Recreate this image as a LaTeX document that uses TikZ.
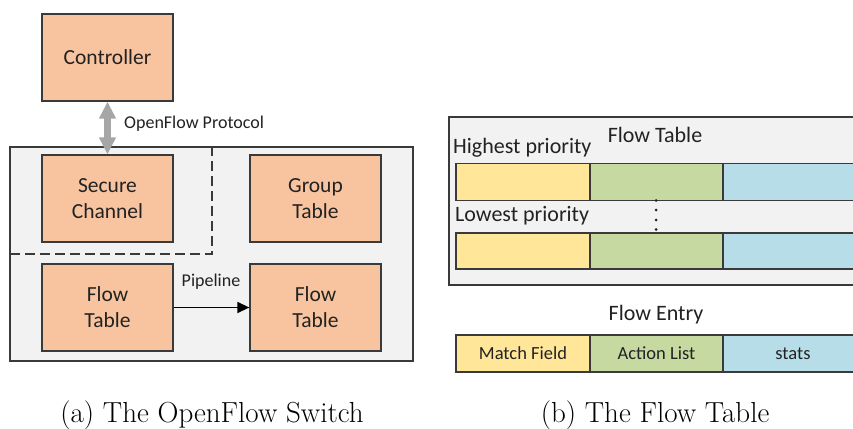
\documentclass[tikz,border=0pt]{standalone}
\usepackage{fontspec}
\setmainfont{Latin Modern Roman}
\newfontfamily\diafont{Carlito}
\usetikzlibrary{arrows.meta,calc}
\definecolor{boxorange}{HTML}{F8C4A0}
\definecolor{panelgray}{HTML}{F2F2F2}
\definecolor{cellyellow}{HTML}{FFE699}
\definecolor{cellgreen}{HTML}{C5D9A1}
\definecolor{cellblue}{HTML}{B7DEE8}
\definecolor{edgegray}{HTML}{3A3A3A}
\definecolor{txt}{HTML}{222222}
\definecolor{arrowgray}{HTML}{A6A6A6}
\tikzset{
  unitbox/.style={draw=edgegray, line width=1.3pt, fill=boxorange,
    minimum width=131pt, minimum height=87pt, inner sep=0pt,
    align=center, text=txt, font=\diafont\fontsize{21.5}{26}\selectfont},
  panel/.style={draw=edgegray, line width=1.3pt, fill=panelgray},
  cell/.style={draw=edgegray, line width=1.3pt, minimum height=37pt,
    inner sep=0pt, text=txt, font=\diafont\fontsize{18.5}{22}\selectfont},
  lbl/.style={text=txt, inner sep=0pt, font=\diafont\fontsize{22}{26}\selectfont},
  smalllbl/.style={text=txt, inner sep=0pt, font=\diafont\fontsize{18}{22}\selectfont},
  caption/.style={inner sep=0pt, font=\fontsize{29}{34}\selectfont}
}
\begin{document}
\begin{tikzpicture}[x=1pt,y=-1pt]
\useasboundingbox (0,0) rectangle (853,428);
\fill[white] (0,0) rectangle (853,428);

% ---- (a) switch ----
\draw[panel] (10,147) rectangle (413,361);
\draw[edgegray, line width=1.3pt, dash pattern=on 10pt off 5pt] (10,254) -- (212,254) -- (212,147);

\node[unitbox] (ctrl) at (107.5,57.5) {Controller};
\node[unitbox] (sec) at (107.5,198.5) {Secure\\Channel};
\node[unitbox] (grp) at (315.5,198.5) {Group\\Table};
\node[unitbox] (ft1) at (107.5,307.5) {Flow\\Table};
\node[unitbox] (ft2) at (315.5,307.5) {Flow\\Table};

\draw[arrowgray, line width=6.5pt,
  {Triangle[length=17pt,width=16pt]}-{Triangle[length=17pt,width=16pt]}]
  (ctrl.south) -- (sec.north);
\node[smalllbl, anchor=west] (proto) at (124,124) {OpenFlow Protocol};

\draw[black, line width=1.4pt, -{Triangle[length=12pt,width=11pt]}] (ft1.east) -- (ft2.west);
\node[smalllbl] (pipe) at (211,282) {Pipeline};

% ---- (b) flow table ----
\draw[panel] (449,117) rectangle (870,285);
\node[lbl] (fttitle) at (655,135) {Flow Table};
\node[lbl, anchor=west] (hi) at (453,148) {Highest priority};
\node[lbl, anchor=west] (lo) at (455,216) {Lowest priority};

\node[cell, fill=cellyellow, minimum width=134pt] (h1) at (523,182) {};
\node[cell, fill=cellgreen, minimum width=133pt] (h2) at (656.5,182) {};
\node[cell, fill=cellblue, minimum width=140pt] (h3) at (793,182) {};

\node[cell, fill=cellyellow, minimum width=134pt, minimum height=36pt] (l1) at (523,251) {};
\node[cell, fill=cellgreen, minimum width=133pt, minimum height=36pt] (l2) at (656.5,251) {};
\node[cell, fill=cellblue, minimum width=140pt, minimum height=36pt] (l3) at (793,251) {};

% vertical ellipsis between the first and the last entry
\foreach \yy in {200.5,210,220,229.5} \fill[txt] (656,\yy) circle (1.5pt);

\node[lbl] (fetitle) at (656,315) {Flow Entry};
\node[cell, fill=cellyellow, minimum width=134pt] (m1) at (523,353.5) {Match Field};
\node[cell, fill=cellgreen, minimum width=133pt] (m2) at (656.5,353.5) {Action List};
\node[cell, fill=cellblue, minimum width=140pt] (m3) at (793,353.5) {stats};

% ---- captions ----
\node[caption, anchor=base] (capa) at (212,422) {(a) The OpenFlow Switch};
\node[caption, anchor=base] (capb) at (655,422) {(b) The Flow Table};
\end{tikzpicture}
\end{document}
